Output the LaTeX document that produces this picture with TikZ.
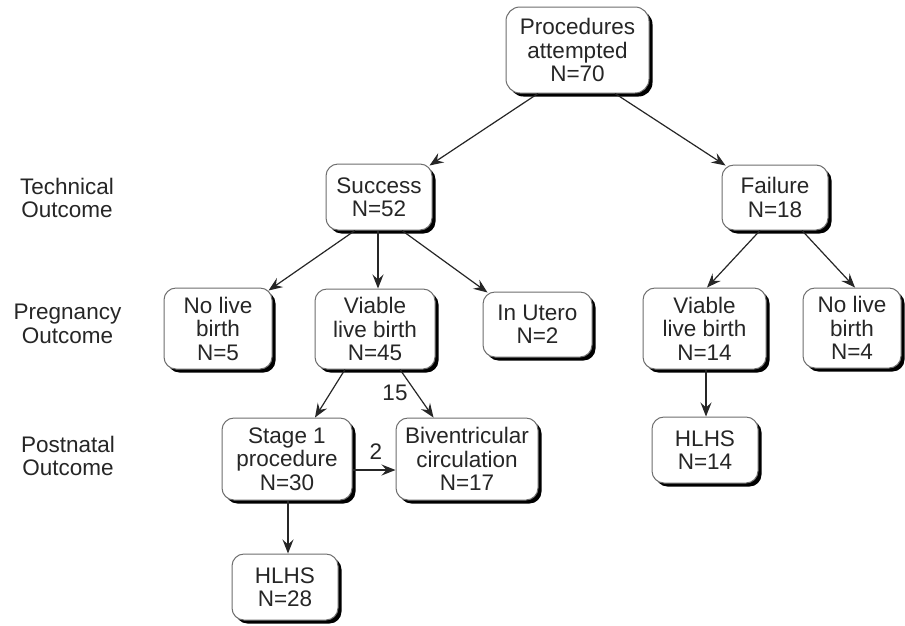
\documentclass[tikz,border=0pt]{standalone}
\usepackage{fontspec}
\setmainfont{Liberation Sans}
\usetikzlibrary{arrows.meta,shadows,calc}
\definecolor{txt}{HTML}{262626}
\definecolor{bord}{HTML}{6E6E6E}
\newcommand\boxfont{\fontsize{22.5}{23.5}\selectfont}
\begin{document}
\begin{tikzpicture}[x=1pt,y=-1pt,
  box/.style={draw=bord, line width=1pt, fill=white, rounded corners=12pt,
    align=center, inner sep=0pt, text=txt, font=\boxfont,
    drop shadow={shadow xshift=3.5pt, shadow yshift=-3.5pt, fill=black, opacity=1}},
  arr/.style={draw=txt, line width=1.2pt, -{Stealth[length=14pt,width=11pt,inset=5pt]}},
  lbl/.style={align=center, text=txt, font=\boxfont, inner sep=0pt}]
\useasboundingbox[fill=white] (0,0) rectangle (905,625);

% side labels
\node[lbl] (tech) at (67,198) {Technical\\Outcome};
\node[lbl] (preg) at (67.5,324) {Pregnancy\\Outcome};
\node[lbl] (post) at (68,456) {Postnatal\\Outcome};

% boxes
\node[box, minimum width=143pt, minimum height=86pt, rounded corners=14pt] (proc) at (577.5,50) {Procedures\\attempted\\N=70};
\node[box, minimum width=106pt, minimum height=66pt] (succ) at (379,197) {Success\\N=52};
\node[box, minimum width=106pt, minimum height=65pt] (fail) at (775,197.5) {Failure\\N=18};
\node[box, minimum width=108pt, minimum height=81pt] (nlb5) at (218,328.5) {No live\\birth\\N=5};
\node[box, minimum width=120pt, minimum height=80pt] (via45) at (375,329) {Viable\\live birth\\N=45};
\node[box, minimum width=109pt, minimum height=65pt] (utero) at (537.5,324.5) {In Utero\\N=2};
\node[box, minimum width=123pt, minimum height=81pt] (via14) at (704.5,328.5) {Viable\\live birth\\N=14};
\node[box, minimum width=98pt, minimum height=80pt] (nlb4) at (852,328) {No live\\birth\\N=4};
\node[box, minimum width=130pt, minimum height=82pt] (stage1) at (287,459) {Stage 1\\procedure\\N=30};
\node[box, minimum width=142pt, minimum height=82pt] (biv) at (467,459) {Biventricular\\circulation\\N=17};
\node[box, minimum width=106pt, minimum height=66pt] (hlhs14) at (705,450) {HLHS\\N=14};
\node[box, minimum width=106pt, minimum height=66pt] (hlhs28) at (285,587) {HLHS\\N=28};

% connectors
\draw[arr] ([xshift=-39.5pt]proc.south) -- ([xshift=-3pt,yshift=-2pt]succ.north east);
\draw[arr] ([xshift=37.5pt]proc.south) -- ([xshift=4pt,yshift=-1pt]fail.north west);
\draw[arr] ([xshift=-24pt]succ.south) -- ([xshift=-4pt,yshift=-3pt]nlb5.north east);
\draw[arr] ([xshift=-1pt]succ.south) -- ([xshift=3pt]via45.north);
\draw[arr] ([xshift=23pt]succ.south) -- ([xshift=5pt,yshift=-1pt]utero.north west);
\draw[arr] ([xshift=-15pt]fail.south) -- ([xshift=2.5pt]via14.north);
\draw[arr] ([xshift=27pt]fail.south) -- ([xshift=3pt]nlb4.north);
\draw[arr] ([xshift=-30pt]via45.south) -- ([xshift=28pt]stage1.north);
\draw[arr] ([xshift=25pt]via45.south) -- ([xshift=-33.5pt]biv.north);
\draw[arr] ([yshift=-11pt]stage1.east) -- ([yshift=-11pt]biv.west);
\draw[arr] ([xshift=1.5pt]via14.south) -- ([xshift=1pt]hlhs14.north);
\draw[arr] ([xshift=1pt]stage1.south) -- ([xshift=3pt]hlhs28.north);

% edge labels
\node[lbl] (l15) at (395,393) {15};
\node[lbl] (l2) at (376,452) {2};
\end{tikzpicture}
\end{document}
